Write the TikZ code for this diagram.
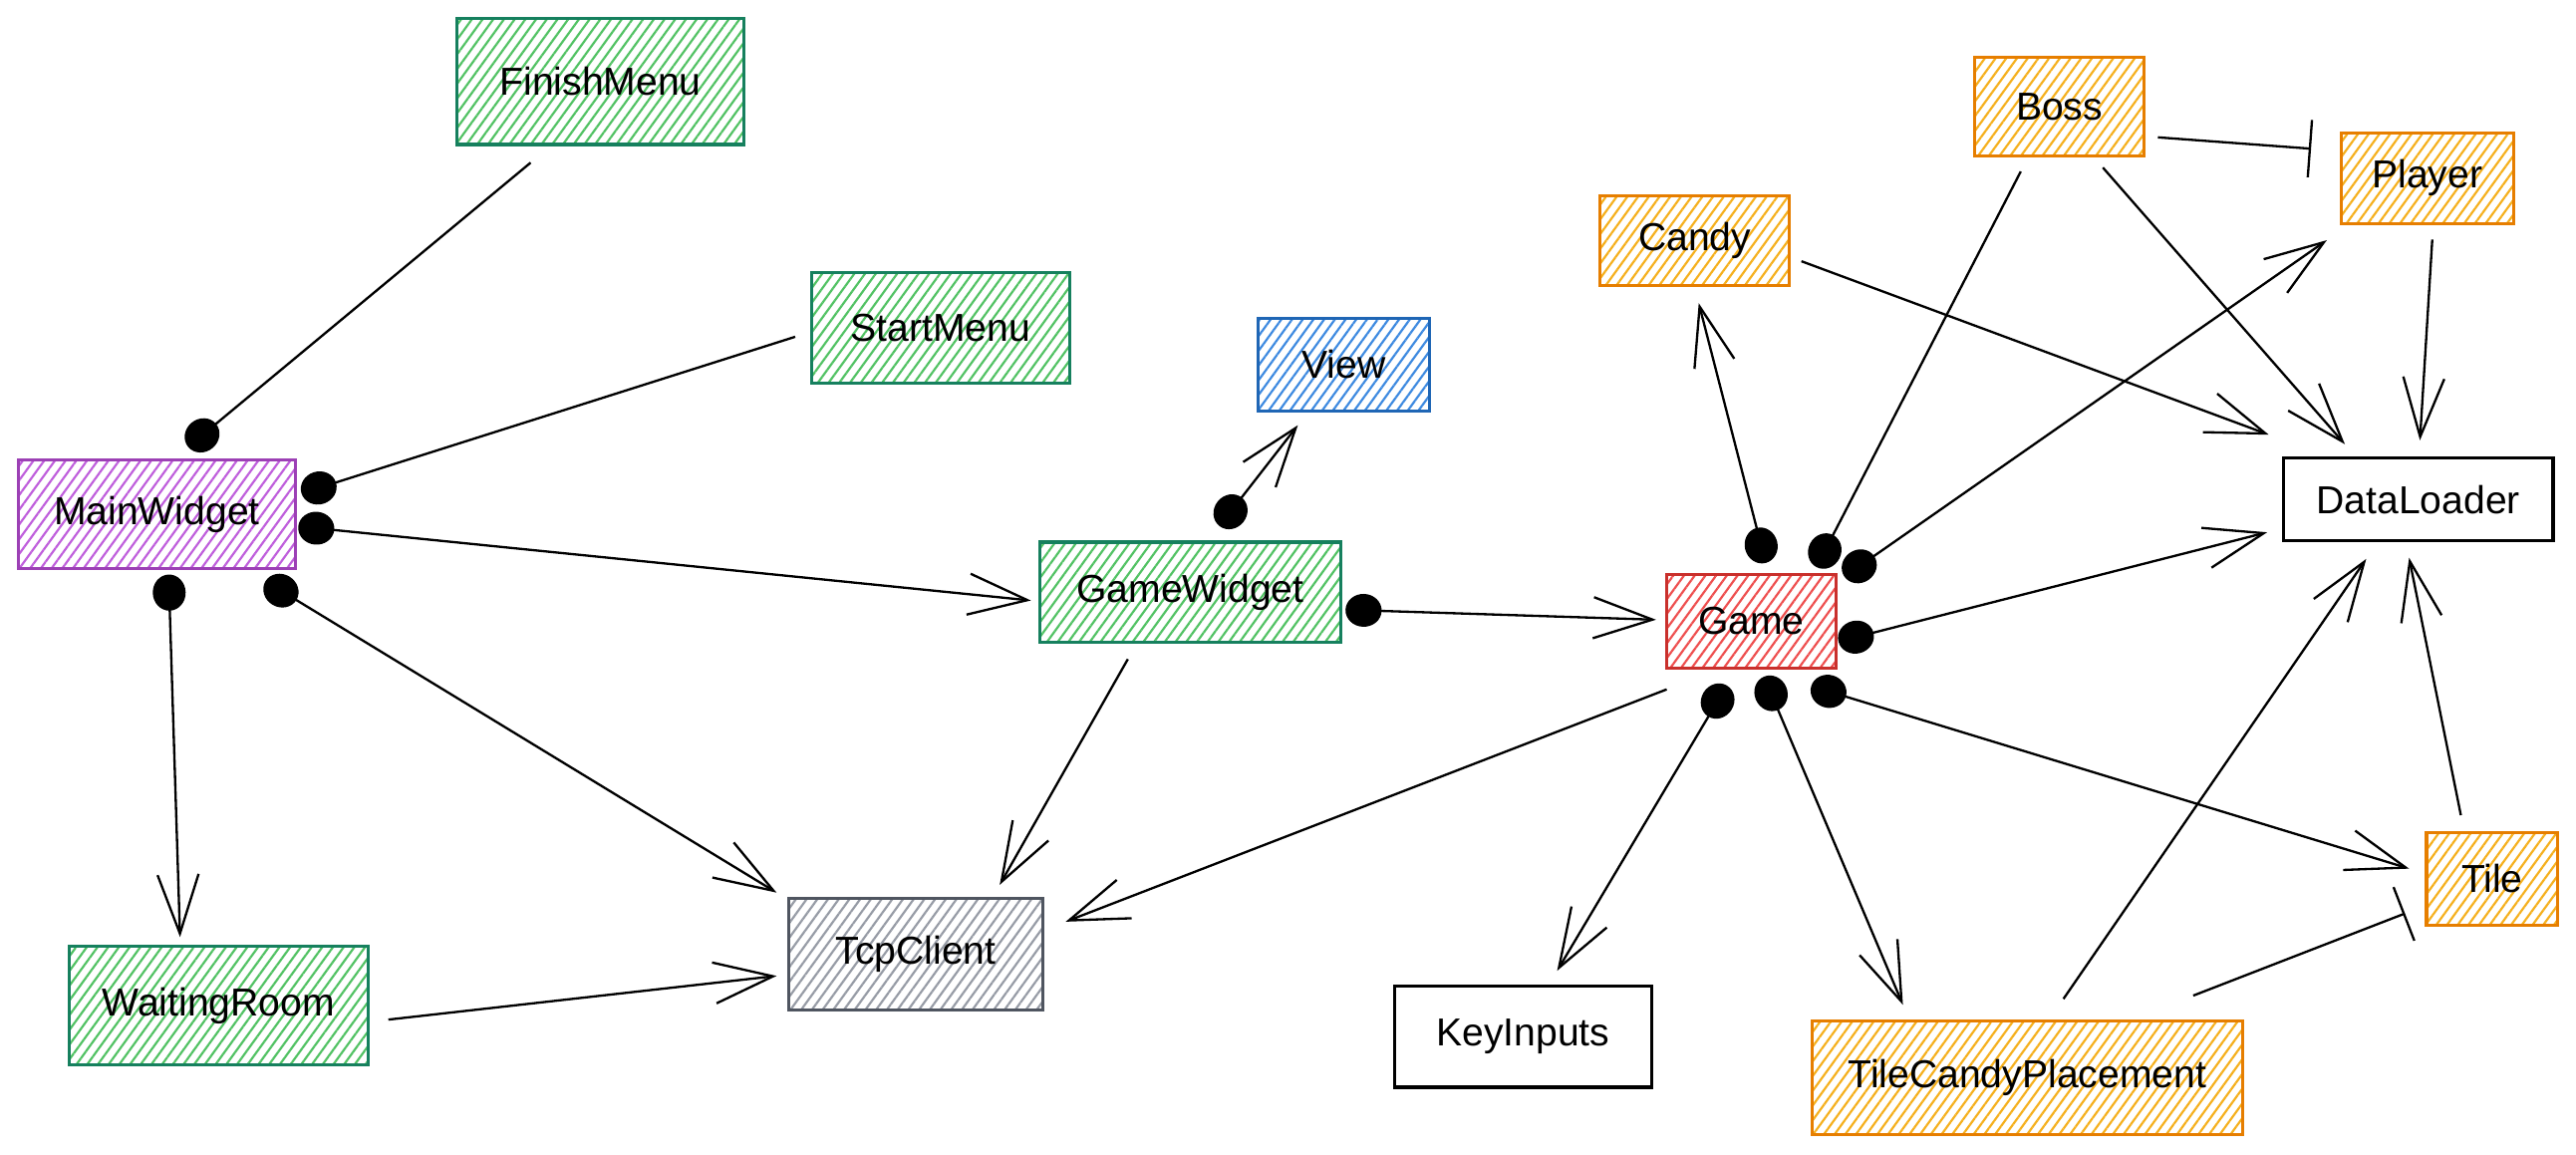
\documentclass[tikz,border=0pt]{standalone}
\usepackage{fontspec}
\setmainfont{Liberation Sans}
\usetikzlibrary{arrows.meta,patterns.meta,calc}
\definecolor{grnline}{HTML}{16805E}
\definecolor{grnfill}{HTML}{52C264}
\definecolor{purline}{HTML}{9C40B5}
\definecolor{purfill}{HTML}{BF5FDC}
\definecolor{redline}{HTML}{C9302C}
\definecolor{redfill}{HTML}{EE4F4F}
\definecolor{bluline}{HTML}{1F66B5}
\definecolor{blufill}{HTML}{3E8AE0}
\definecolor{orgline}{HTML}{E67E00}
\definecolor{orgfill}{HTML}{F5B01E}
\definecolor{gryline}{HTML}{4F5560}
\definecolor{gryfill}{HTML}{979CA6}
\tikzset{
box/.style={draw,line width=1.1pt,inner sep=0pt,font=\fontsize{13.5}{16}\selectfont},
hatch/.style={pattern={Lines[angle=54,distance=3pt,line width=0.75pt]},pattern color=#1},
greenbox/.style={box,draw=grnline,hatch=grnfill},
purplebox/.style={box,draw=purline,hatch=purfill},
redbox/.style={box,draw=redline,hatch=redfill},
bluebox/.style={box,draw=bluline,hatch=blufill},
orangebox/.style={box,draw=orgline,hatch=orgfill},
greybox/.style={box,draw=gryline,hatch=gryfill},
plainbox/.style={box,draw=black,fill=white},
owns/.style={line width=0.8pt,shorten <=-2.2mm,{Circle[length=4.4mm,width=4mm]}-{Straight Barb[length=7.2mm,width=5mm]}},
ownsonly/.style={line width=0.8pt,shorten <=-2.2mm,{Circle[length=4.4mm,width=4mm]}-},
uses/.style={line width=0.8pt,-{Straight Barb[length=7.2mm,width=5mm]}},
stops/.style={line width=0.8pt,-{Bar[width=7mm]}}
}
\begin{document}
\begin{tikzpicture}[x=0.02cm,y=-0.02cm]
\useasboundingbox (0,0) rectangle (1568,703);
\node[greenbox,minimum width=3.5cm,minimum height=1.54cm] (Fin) at (365.5,49.5) {FinishMenu};
\node[greenbox,minimum width=3.14cm,minimum height=1.34cm] (Start) at (572.5,199.5) {StartMenu};
\node[purplebox,minimum width=3.38cm,minimum height=1.32cm] (Main) at (95.5,313) {MainWidget};
\node[bluebox,minimum width=2.08cm,minimum height=1.12cm] (View) at (818,222) {View};
\node[greenbox,minimum width=3.66cm,minimum height=1.22cm] (GW) at (724.5,360.5) {GameWidget};
\node[greenbox,minimum width=3.64cm,minimum height=1.44cm] (Wait) at (133,612) {WaitingRoom};
\node[greybox,minimum width=3.1cm,minimum height=1.36cm] (Tcp) at (557.5,581) {TcpClient};
\node[redbox,minimum width=2.07cm,minimum height=1.14cm] (Game) at (1066,378) {Game};
\node[plainbox,minimum width=3.13cm,minimum height=1.23cm] (Keys) at (927,631) {KeyInputs};
\node[orangebox,minimum width=5.24cm,minimum height=1.39cm] (Place) at (1234,656) {TileCandyPlacement};
\node[orangebox,minimum width=1.6cm,minimum height=1.12cm] (Tile) at (1517,535) {Tile};
\node[orangebox,minimum width=2.3cm,minimum height=1.1cm] (Candy) at (1031.5,146.5) {Candy};
\node[orangebox,minimum width=2.06cm,minimum height=1.2cm] (Boss) at (1253.5,65) {Boss};
\node[orangebox,minimum width=2.1cm,minimum height=1.1cm] (Player) at (1477.5,108.5) {Player};
\node[plainbox,minimum width=3.28cm,minimum height=1.01cm] (Data) at (1472,304) {DataLoader};

\draw[ownsonly] ($(Main)+(27.5,-48)$) -- ($(Fin)+(-42.5,49.5)$);
\draw[ownsonly] ($(Main)+(98.5,-16)$) -- ($(Start)+(-88.5,5.5)$);
\draw[owns] ($(Main)+(97,8.5)$) -- ($(GW)+(-97,5)$);
\draw[owns] ($(Main)+(7.5,47.7)$) -- ($(Wait)+(-23.4,-41.6)$);
\draw[owns] ($(Main)+(75.5,46.5)$) -- ($(Tcp)+(-84.8,-37.7)$);
\draw[uses] ($(Wait)+(103.4,8.6)$) -- ($(Tcp)+(-84.8,13)$);
\draw[uses] ($(GW)+(-38,40.7)$) -- ($(Tcp)+(51,-42.4)$);
\draw[uses] ($(Game)+(-51.5,41.6)$) -- ($(Tcp)+(91.2,-20)$);
\draw[owns] ($(GW)+(24.5,-49)$) -- ($(View)+(-28,36.8)$);
\draw[owns] ($(GW)+(105.5,11)$) -- ($(Game)+(-58,-0.8)$);

\draw[owns] ($(Game)+(6,-46)$) -- ($(Candy)+(2.5,38)$);
\draw[ownsonly] ($(Game)+(44.7,-42.6)$) -- ($(Boss)+(-23.5,39.4)$);
\draw[owns] ($(Game)+(65.7,-33.3)$) -- ($(Player)+(-61.2,37.7)$);
\draw[owns] ($(Game)+(63.7,9.8)$) -- ($(Data)+(-92,20)$);
\draw[owns] ($(Game)+(-20.5,48.7)$) -- ($(Keys)+(20.8,-40.1)$);
\draw[owns] ($(Game)+(12,44)$) -- ($(Place)+(-75.7,-44.4)$);
\draw[owns] ($(Game)+(47,42.8)$) -- ($(Tile)+(-50.6,-6.3)$);

\draw[uses] ($(Candy)+(65,12.5)$) -- ($(Data)+(-91,-39.4)$);
\draw[uses] ($(Boss)+(26.5,37)$) -- ($(Data)+(-44.7,-33.6)$);
\draw[uses] ($(Player)+(3,37.3)$) -- ($(Data)+(1,-36)$);
\draw[stops] ($(Boss)+(60,18.6)$) -- ($(Player)+(-70.8,-18)$);
\draw[uses] ($(Place)+(22,-48)$) -- ($(Data)+(-31.7,36.2)$);
\draw[uses] ($(Tile)+(-19.1,-38.8)$) -- ($(Data)+(-5.6,35.5)$);
\draw[stops] ($(Place)+(101,-50)$) -- ($(Tile)+(-53.1,21)$);
\end{tikzpicture}
\end{document}
